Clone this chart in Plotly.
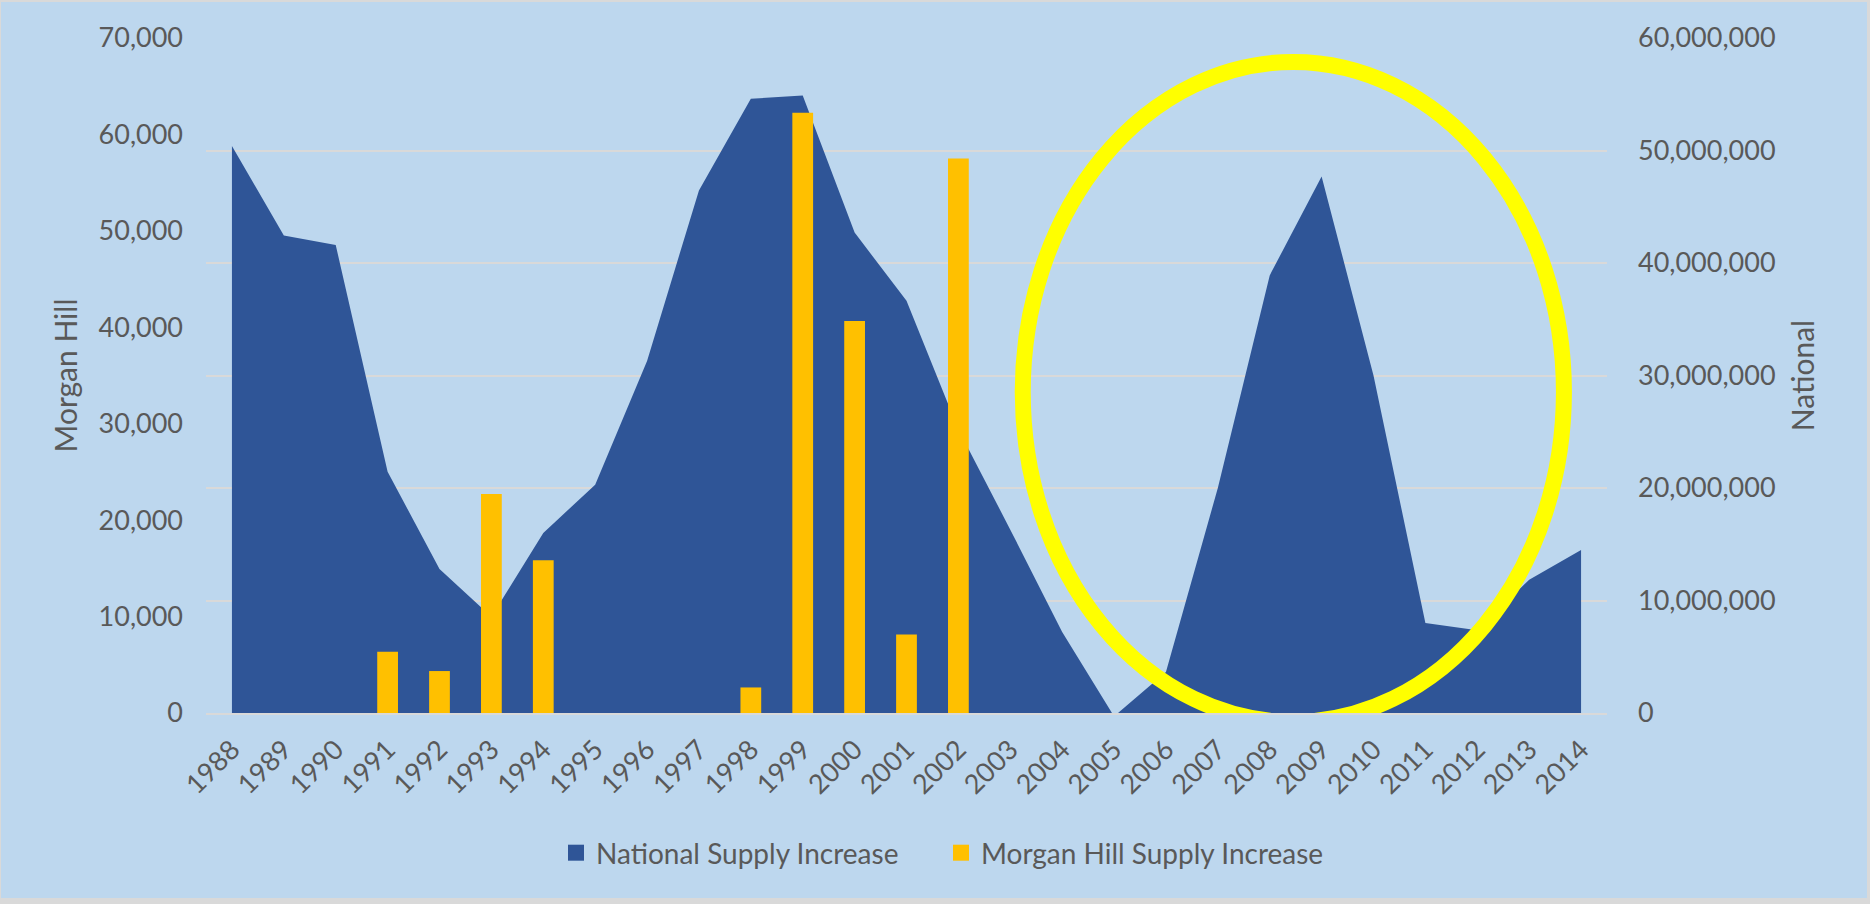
import plotly.graph_objects as go

# Years on the category axis
years = [str(y) for y in range(1988, 2015)]

# National supply increase (right axis)
national = [
    50_400_000, 42_450_000, 41_600_000, 21_450_000, 12_800_000, 8_550_000,
    16_000_000, 20_300_000, 31_300_000, 46_450_000, 54_600_000, 54_900_000,
    42_700_000, 36_650_000, 25_200_000, 16_300_000, 7_200_000, -300_000,
    3_650_000, 20_000_000, 38_900_000, 47_700_000, 30_000_000, 8_000_000,
    7_350_000, 11_850_000, 14_500_000,
]

# Morgan Hill supply increase (left axis)
morgan_hill = [
    0, 0, 0, 6_350, 4_350, 22_700, 15_850, 0, 0, 0, 2_650, 62_250,
    40_650, 8_150, 57_500, 0, 0, 0, 0, 0, 0, 0, 0, 0, 0, 0, 0,
]

series_names = ["National Supply Increase", "Morgan Hill Supply Increase"]

NAVY = "#2F5597"
GOLD = "#FFC000"
TEXT = "#595959"
GRID = "#D9D9D9"
BG = "#BDD7EE"
FONT = "Lato, 'Open Sans', sans-serif"

W, H = 1870, 904
L, R, T, B = 206, 263, 38, 191
pw, ph = W - L - R, H - T - B


def px_x(px):
    return (px - L) / pw


def px_y(py):
    return (H - B - py) / ph


fig = go.Figure()

# national area on the primary (right-hand) axis
fig.add_trace(go.Scatter(
    x=years, y=national, mode="lines", fill="tozeroy",
    line=dict(width=0, color=NAVY), fillcolor=NAVY,
    yaxis="y", showlegend=False, name=series_names[0],
))

# Morgan Hill bars on the overlaid (left-hand) axis so they sit on top
fig.add_trace(go.Bar(
    x=years, y=morgan_hill, name=series_names[1], showlegend=False,
    marker=dict(color=GOLD, line=dict(width=0)), yaxis="y2",
))

# square legend swatches for both series
for name, color in zip(series_names, [NAVY, GOLD]):
    fig.add_trace(go.Scatter(
        x=[None], y=[None], mode="markers", name=name,
        marker=dict(symbol="square", size=16, color=color),
        yaxis="y", hoverinfo="skip",
    ))

fig.update_layout(
    width=W, height=H, autosize=False,
    margin=dict(l=L, r=R, t=T, b=B, pad=0),
    paper_bgcolor=GRID,
    plot_bgcolor="rgba(0,0,0,0)",
    font=dict(family=FONT, color=TEXT, size=27),
    bargap=0.6,
    showlegend=True,
    legend=dict(
        orientation="h", x=px_x(941), xanchor="center",
        y=px_y(853), yanchor="middle",
        font=dict(family=FONT, size=28, color=TEXT),
        bgcolor="rgba(0,0,0,0)", itemclick=False,
        entrywidth=340, itemwidth=30,
    ),
    xaxis=dict(
        type="category", categoryorder="array", categoryarray=years,
        range=[-0.5, len(years) - 0.5],
        tickangle=-45, showgrid=False, zeroline=False,
        showline=True, linecolor=GRID, linewidth=2,
        ticks="", ticklabelstandoff=8,
        tickfont=dict(family=FONT, size=27, color=TEXT),
    ),
    yaxis=dict(
        side="right", range=[0, 60_000_000], dtick=10_000_000,
        tickformat=",d", showgrid=True, gridcolor=GRID, gridwidth=1.5,
        zeroline=False, showline=False, ticks="", ticklabelstandoff=30,
        tickfont=dict(family=FONT, size=27, color=TEXT),
        title=dict(text="National", standoff=18,
                   font=dict(family=FONT, size=30, color=TEXT)),
    ),
    yaxis2=dict(
        overlaying="y", side="left", range=[0, 70_000], dtick=10_000,
        tickformat=",d", showgrid=False, zeroline=False, showline=False,
        ticks="", ticklabelstandoff=22,
        tickfont=dict(family=FONT, size=27, color=TEXT),
        title=dict(text="Morgan Hill", standoff=12,
                   font=dict(family=FONT, size=30, color=TEXT)),
    ),
    shapes=[
        # chart area fill inside the thin grey frame
        dict(type="rect", xref="paper", yref="paper", layer="below",
             x0=px_x(1), x1=px_x(1867), y0=px_y(898), y1=px_y(2),
             fillcolor=BG, line=dict(width=0)),
        # highlight ring around the 2005-2014 period
        dict(type="circle", xref="x", yref="y", layer="above",
             x0=15.24, x1=25.67, y0=-800_000, y1=57_870_000,
             line=dict(color="#FFFF00", width=16)),
    ],
)

fig.write_html("out.html")
